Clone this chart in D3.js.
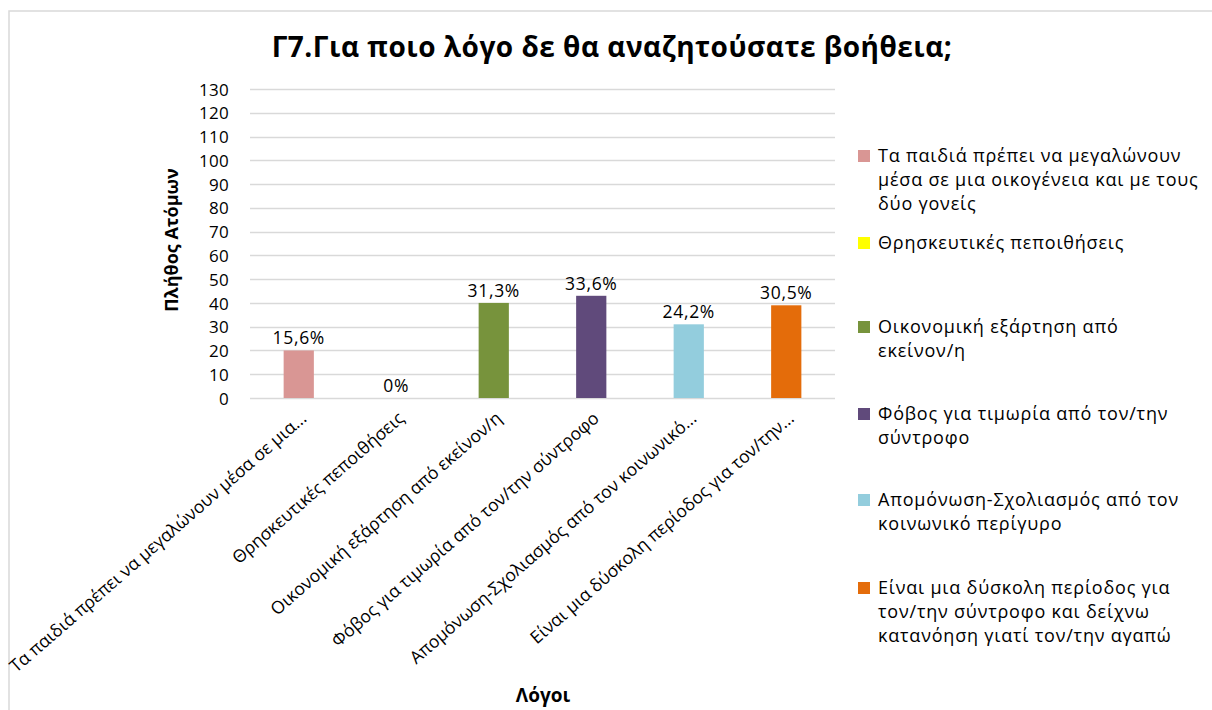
<!DOCTYPE html>
<html>
<head>
<meta charset="utf-8">
<script src="https://cdn.jsdelivr.net/npm/d3@7"></script>
<style>
  html, body { margin: 0; padding: 0; background: #fff; }
  svg { display: block; font-family: "Open Sans", "Noto Sans", "DejaVu Sans", sans-serif; }
</style>
</head>
<body>
<svg id="chart" width="1212" height="710"></svg>
<script>
// ---- data ----
const categories = [
  "Τα παιδιά πρέπει να μεγαλώνουν μέσα σε μια...",
  "Θρησκευτικές πεποιθήσεις",
  "Οικονομική εξάρτηση από εκείνον/η",
  "Φόβος για τιμωρία από τον/την σύντροφο",
  "Απομόνωση-Σχολιασμός από τον κοινωνικό...",
  "Είναι μια δύσκολη περίοδος για τον/την..."
];
const values = [20, 0, 40, 43, 31, 39];
const percentLabels = ["15,6%", "0%", "31,3%", "33,6%", "24,2%", "30,5%"];
const legendLabels = [
  ["Τα παιδιά πρέπει να μεγαλώνουν", "μέσα σε μια οικογένεια και με τους", "δύο γονείς"],
  ["Θρησκευτικές πεποιθήσεις"],
  ["Οικονομική εξάρτηση από", "εκείνον/η"],
  ["Φόβος για τιμωρία  από τον/την", "σύντροφο"],
  ["Απομόνωση-Σχολιασμός από τον", "κοινωνικό περίγυρο"],
  ["Είναι μια δύσκολη  περίοδος για", "τον/την σύντροφο και δείχνω", "κατανόηση γιατί τον/την αγαπώ"]
];
const colors = ["#D99694", "#FFFF00", "#77933C", "#604A7B", "#93CDDD", "#E46C0A"];
const yTicks = d3.range(0, 131, 10);
const title = "Γ7.Για ποιο λόγο δε θα αναζητούσατε βοήθεια;";
const yTitle = "Πλήθος Ατόμων";
const xTitle = "Λόγοι";

// ---- layout ----
const svg = d3.select("#chart");
const plot = { left: 250, right: 835, top: 89, bottom: 398 };

// outer border
svg.append("rect")
  .attr("x", 9).attr("y", 11).attr("width", 1240).attr("height", 740)
  .attr("fill", "none").attr("stroke", "#D9D9D9").attr("stroke-width", 1.5);

const x = d3.scaleBand().domain(d3.range(categories.length))
  .range([plot.left, plot.right]).paddingInner(0.69).paddingOuter(0.345);
const y = d3.scaleLinear().domain([0, 130]).range([plot.bottom, plot.top]);

// gridlines
svg.append("g").selectAll("line").data(yTicks).join("line")
  .attr("x1", plot.left).attr("x2", plot.right)
  .attr("y1", d => Math.round(y(d)) + 0.5).attr("y2", d => Math.round(y(d)) + 0.5)
  .attr("stroke", "#D9D9D9").attr("stroke-width", 1.3);

// y-axis labels
const yAxis = d3.axisLeft(y).tickValues(yTicks).tickSize(0).tickPadding(0);
const gy = svg.append("g").attr("transform", `translate(229,0)`).call(yAxis);
gy.select(".domain").remove();
gy.selectAll("text").attr("font-size", 17).attr("fill", "#000")
  .attr("font-family", "'Open Sans', sans-serif").attr("letter-spacing", 0.3).attr("dy", "0.36em");

// bars
svg.append("g").selectAll("rect").data(values).join("rect")
  .attr("x", (d, i) => x(i)).attr("width", x.bandwidth())
  .attr("y", d => y(d)).attr("height", d => y(0) - y(d))
  .attr("fill", (d, i) => colors[i]);

// data labels
svg.append("g").selectAll("text").data(values).join("text")
  .attr("x", (d, i) => x(i) + x.bandwidth() / 2)
  .attr("y", d => y(d) - 6)
  .attr("text-anchor", "middle").attr("font-size", 17.5).attr("letter-spacing", 0.7).attr("fill", "#000")
  .text((d, i) => percentLabels[i]);

// x-axis category labels
const xAxis = d3.axisBottom(x).tickSize(0).tickFormat(i => categories[i]);
const gx = svg.append("g").attr("transform", `translate(0,${plot.bottom})`).call(xAxis);
gx.select(".domain").remove();
gx.selectAll("text")
  .attr("font-size", 17.5).attr("fill", "#000")
  .attr("font-family", "'Open Sans', sans-serif")
  .attr("text-anchor", "end")
  .attr("y", 0).attr("dy", 0)
  .attr("transform", "translate(9,22) rotate(-41)");

// titles
svg.append("text").attr("x", 612).attr("y", 57)
  .attr("text-anchor", "middle").attr("font-size", 28).attr("letter-spacing", 0.5).attr("font-weight", "bold")
  .attr("fill", "#000").text(title);

svg.append("text").attr("transform", "translate(178,240) rotate(-90)")
  .attr("text-anchor", "middle").attr("font-size", 18).attr("font-weight", "bold")
  .attr("fill", "#000").text(yTitle);

svg.append("text").attr("x", 543).attr("y", 702)
  .attr("text-anchor", "middle").attr("font-size", 19).attr("font-weight", "bold")
  .attr("fill", "#000").text(xTitle);

// legend
const legendY = [156, 243, 327, 414, 500, 588];
const lg = svg.append("g");
legendLabels.forEach((lines, i) => {
  lg.append("rect").attr("x", 858).attr("y", legendY[i] - 6).attr("width", 12).attr("height", 12)
    .attr("fill", colors[i]);
  const t = lg.append("text").attr("x", 878).attr("y", legendY[i])
    .attr("font-size", 18).attr("letter-spacing", 0.8).attr("fill", "#000");
  lines.forEach((ln, j) => {
    t.append("tspan").attr("x", 878).attr("dy", j === 0 ? "0.35em" : "24px").text(ln);
  });
});
</script>
</body>
</html>
